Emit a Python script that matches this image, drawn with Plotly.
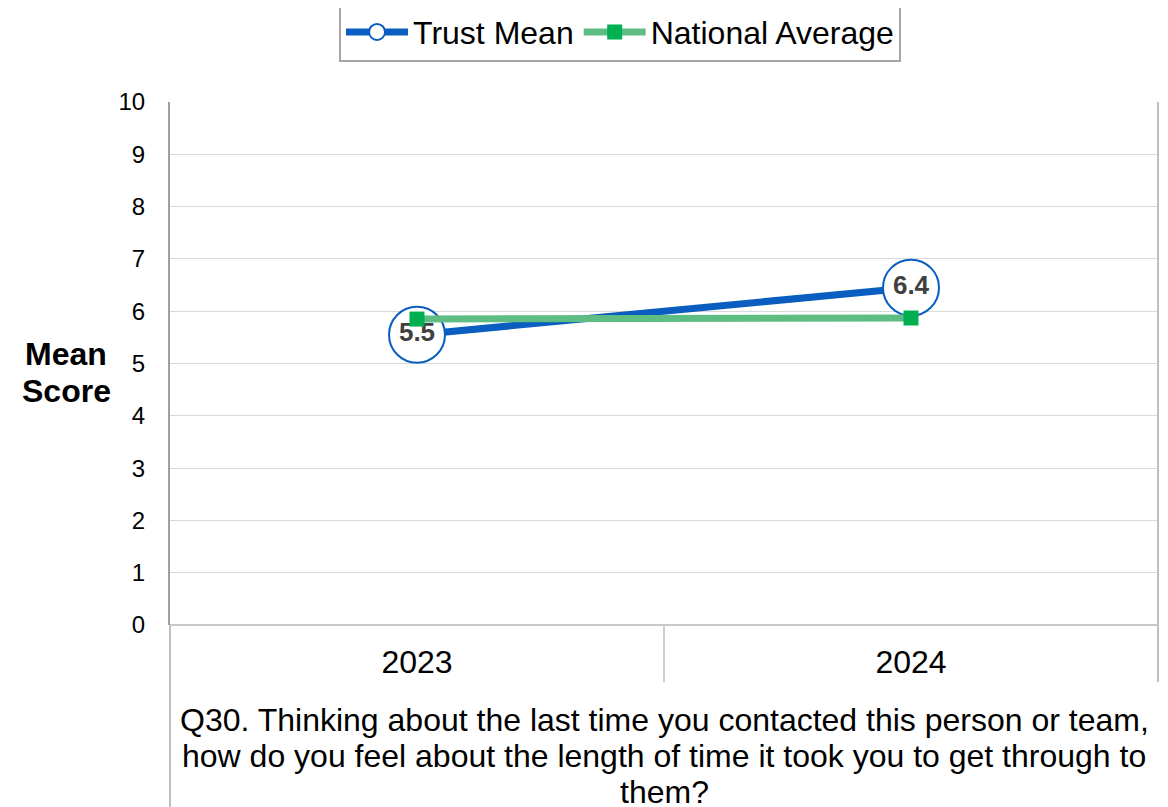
import plotly.graph_objects as go

years = ["2023", "2024"]
trust_mean = [5.55, 6.45]
trust_labels = ["5.5", "6.4"]
national_avg = [5.85, 5.87]
y_ticks = list(range(0, 11))
y_title_lines = ["Mean", "Score"]
question_lines = [
    "Q30. Thinking about the last time you contacted this person or team,",
    "how do you feel about the length of time it took you to get through to",
    "them?",
]

FONT = "Arial, Liberation Sans, sans-serif"
BLUE = "#0A5EC0"
GREEN_LINE = "#5EBD82"
GREEN_MARK = "#00B050"
GRID = "#D9D9D9"

fig = go.Figure()
fig.add_trace(go.Scatter(
    x=years, y=trust_mean, name="Trust Mean", mode="lines+markers+text",
    line=dict(color=BLUE, width=7),
    marker=dict(symbol="circle", size=56, color="white", line=dict(color=BLUE, width=2)),
    text=trust_labels, textposition="middle center",
    textfont=dict(family=FONT, size=26, color="#404040", weight="bold"),
    cliponaxis=False,
))
fig.add_trace(go.Scatter(
    x=years, y=national_avg, name="National Average", mode="lines+markers",
    line=dict(color=GREEN_LINE, width=7),
    marker=dict(symbol="square", size=15, color=GREEN_MARK),
    cliponaxis=False,
))

shapes = [
    dict(type="line", xref="paper", yref="paper", x0=1, x1=1, y0=1, y1=-0.109,
         line=dict(color="#BFBFBF", width=2)),
    dict(type="line", xref="paper", yref="paper", x0=0, x1=0, y0=0, y1=-0.36,
         line=dict(color="#BFBFBF", width=2)),
    dict(type="line", xref="paper", yref="paper", x0=0.5, x1=0.5, y0=0, y1=-0.109,
         line=dict(color="#D0D0D0", width=2)),
    dict(type="line", xref="paper", yref="paper", x0=0, x1=1, y0=0, y1=0,
         line=dict(color="#C8C8C8", width=2)),
]

PLOT_H = 523.0
annotations = []
for i, t in enumerate(y_title_lines):
    ypx = 354 + 37 * i
    annotations.append(dict(text="<b>%s</b>" % t, xref="paper", yref="paper",
                            x=(66 - 170) / 988.0, y=(625 - ypx) / PLOT_H,
                            showarrow=False, font=dict(family=FONT, size=32, color="black"),
                            xanchor="center", yanchor="middle"))
for i, t in enumerate(question_lines):
    ypx = 720 + 36 * i
    annotations.append(dict(text=t, xref="paper", yref="paper",
                            x=0.5, y=(625 - ypx) / PLOT_H,
                            showarrow=False, font=dict(family=FONT, size=32, color="black"),
                            xanchor="center", yanchor="middle"))

# page body adds an 8px offset; figure sized to the visible area
fig.update_layout(
    width=1160, height=799,
    margin=dict(l=162, r=10, t=94, b=182, autoexpand=False),
    paper_bgcolor="white", plot_bgcolor="white",
    font=dict(family=FONT, color="black"),
    showlegend=True,
    legend=dict(orientation="h", x=0.4555, xanchor="center", y=1.19, yanchor="top",
                bordercolor="#A6A6A6", borderwidth=2, bgcolor="white",
                font=dict(family=FONT, size=32, color="black"),
                itemwidth=62, tracegroupgap=0),
    xaxis=dict(type="category", range=[-0.5, 1.5], showgrid=False, zeroline=False,
               showline=False, ticks="", automargin=False,
               tickfont=dict(family=FONT, size=32, color="black"),
               ticklabelstandoff=15),
    yaxis=dict(range=[0, 10], tickvals=y_ticks, showgrid=True, gridcolor=GRID, gridwidth=1,
               zeroline=False, showline=True, linecolor="#A0A0A0", linewidth=2,
               ticks="", automargin=False,
               tickfont=dict(family=FONT, size=24, color="black"),
               ticklabelstandoff=18),
    shapes=shapes,
    annotations=annotations,
)

fig.write_html("out.html")
